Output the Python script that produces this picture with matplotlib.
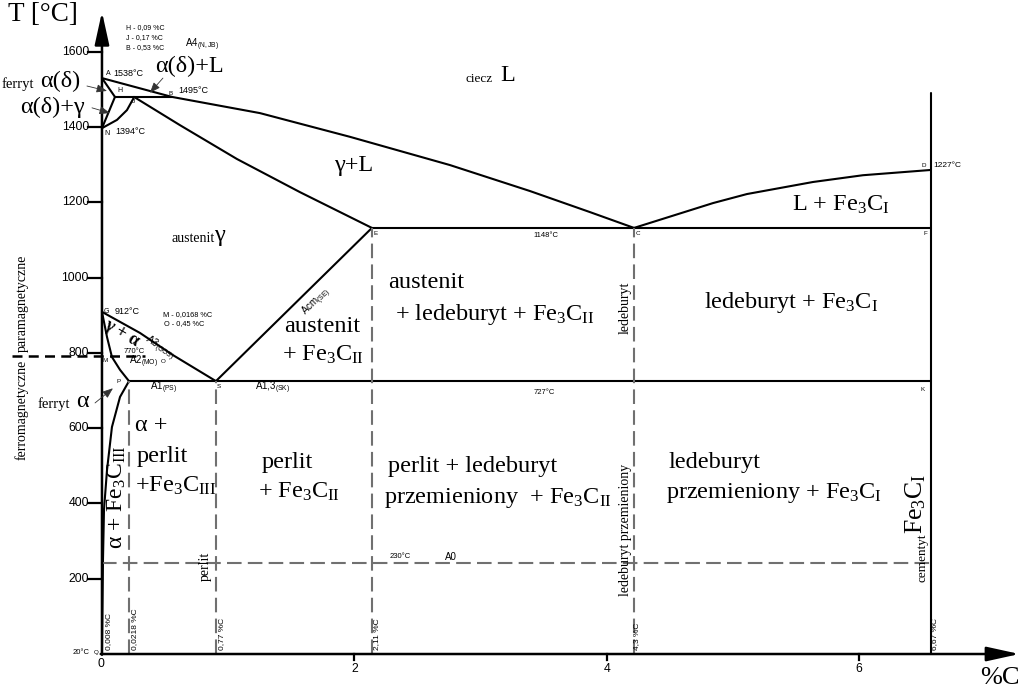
import matplotlib
matplotlib.use('Agg')
import matplotlib.pyplot as plt

# fonts: serif labels like the original (Times-like), sans for small notes
plt.rcParams['font.family'] = ['Liberation Serif', 'DejaVu Serif']
plt.rcParams['mathtext.fontset'] = 'custom'
plt.rcParams['mathtext.rm'] = 'Liberation Serif'
plt.rcParams['mathtext.it'] = 'Liberation Serif:italic'
plt.rcParams['mathtext.sf'] = 'Liberation Sans'
SANS = 'Liberation Sans'

# ---- phase boundaries (x = %C on the drawn scale, T = °C) ----
liq_x = [0.0, 0.555, 1.252, 1.965, 2.757, 3.391, 3.867, 4.216]      # A-B-C
liq_t = [1530, 1480, 1437, 1374, 1299, 1230, 1174, 1132]
cd_x = [4.216, 4.842, 5.111, 5.634, 6.030, 6.569]                     # C-D
cd_t = [1132, 1198, 1222, 1254, 1272, 1286]
je_x = [0.254, 0.618, 1.070, 1.569, 2.139]                            # J-E
je_t = [1480, 1405, 1315, 1227, 1132]
ah_x = [0.0, 0.103]
ah_t = [1530, 1480]
hn_x = [0.103, 0.0]
hn_t = [1480, 1397]
hb_x = [0.103, 0.555]
hb_t = [1480, 1480]
nj_x = [0.0, 0.119, 0.198, 0.246, 0.254]                              # N-J
nj_t = [1397, 1419, 1445, 1474, 1480]
gs_x = [0.0, 0.301, 0.563, 0.903]                                     # G-S (A3)
gs_t = [909, 853, 794, 725]
gp_x = [0.0, 0.040, 0.079, 0.143, 0.214]                              # G-P
gp_t = [909, 842, 789, 755, 725]
pq_x = [0.214, 0.143, 0.079, 0.040, 0.016, 0.008, 0.0]               # P-Q
pq_t = [725, 683, 603, 489, 383, 250, 0]
se_x = [0.903, 2.139]                                                 # S-E (Acm)
se_t = [725, 1132]
ecf_x = [2.139, 6.569]
ecf_t = [1132, 1132]
psk_x = [0.214, 6.569]
psk_t = [725, 725]
cem_x = [6.569, 6.569]
cem_t = [0, 1490]

# dashed guide lines
guide_x = [0.214, 0.903, 2.139, 4.216]     # P, S, E, C
guide_top = [725, 725, 1132, 1132]
a0_t = 242
a0_x = [0.0, 6.569]
curie_t = 792
curie_x = [-0.713, 0.341]

yticks = [200, 400, 600, 800, 1000, 1200, 1400, 1600]
xticks = [2, 4, 6]

fig = plt.figure(figsize=(10.24, 6.88), dpi=100)
ax = fig.add_axes([0, 0, 1, 1])
ax.set_xlim(-0.808, 7.306)
ax.set_ylim(-90.3, 1737.5)
ax.axis('off')

LW = 1.5
for xs, ts in [(liq_x, liq_t), (cd_x, cd_t), (je_x, je_t), (ah_x, ah_t),
               (hn_x, hn_t), (hb_x, hb_t), (nj_x, nj_t), (gs_x, gs_t),
               (gp_x, gp_t), (pq_x, pq_t), (se_x, se_t), (ecf_x, ecf_t),
               (psk_x, psk_t), (cem_x, cem_t)]:
    ax.plot(xs, ts, color='black', lw=LW, solid_capstyle='round', solid_joinstyle='round')

GRAY = '#707070'
for gx, gt in zip(guide_x, guide_top):
    ax.plot([gx, gx], [0, gt], color=GRAY, lw=1.5, dashes=(7, 3))
ax.plot(a0_x, [a0_t, a0_t], color=GRAY, lw=1.5, dashes=(7, 3))
ax.plot(curie_x, [curie_t, curie_t], color='black', lw=1.8, dashes=(4, 2.5))

# axes with arrows
arrow = dict(arrowstyle='-|>,head_length=1.0,head_width=0.22', lw=1.8,
             color='black', mutation_scale=20, shrinkA=0, shrinkB=0)
ax.annotate('', xy=(0, 1706), xytext=(0, -2), arrowprops=arrow)
ax.annotate('', xy=(7.27, 0), xytext=(-0.01, 0), arrowprops=arrow)

for t in yticks:
    ax.plot([-0.111, 0], [t, t], color='black', lw=1.6)
    ax.text(-0.103, t, str(t), family=SANS, fontsize=8.8, ha='right', va='center')
for xt in xticks:
    ax.plot([xt, xt], [0, -16], color='black', lw=1.6)
    ax.text(xt, -24, str(xt), family=SANS, fontsize=8.8, ha='center', va='top')
ax.text(-0.01, -10, '0', family=SANS, fontsize=8.8, ha='center', va='top')

ax.text(-0.745, 1700, 'T [°C]', fontsize=19.5, ha='left', va='center')
ax.text(6.957, -64, '%C', fontsize=19, ha='left', va='center')

FE3C_I = r'Fe$_\mathrm{3}$C$_\mathrm{I}$'
FE3C_II = r'Fe$_\mathrm{3}$C$_\mathrm{II}$'
FE3C_III = r'Fe$_\mathrm{3}$C$_\mathrm{III}$'


def big(x, t, s, size=17.5, **kw):
    ax.text(x, t, s, fontsize=size, ha=kw.pop('ha', 'left'), va=kw.pop('va', 'center'), **kw)


def note(x, t, s, size=6.5, **kw):
    ax.text(x, t, s, family=SANS, fontsize=size, ha=kw.pop('ha', 'left'),
            va=kw.pop('va', 'center'), **kw)


# phase names
big(0.420, 1562, 'α(δ)+L')
big(-0.792, 1514, 'ferryt', size=10.5)
big(-0.491, 1520, 'α(δ)')
big(-0.650, 1451, 'α(δ)+γ')
big(2.884, 1528, 'ciecz', size=9.5)
big(3.154, 1536, 'L')
big(1.838, 1299, 'γ+L')
big(0.547, 1105, 'austenit', size=10)
big(0.887, 1113, 'γ')
big(1.442, 871, 'austenit')
big(1.426, 794, '+ ' + FE3C_II)
big(2.266, 986, 'austenit')
big(2.322, 901, '+ ledeburyt + ' + FE3C_II)
big(4.770, 933, 'ledeburyt + ' + FE3C_I)
big(5.467, 1193, 'L + ' + FE3C_I)
big(0.261, 608, 'α +')
big(0.277, 526, 'perlit')
big(0.261, 446, '+' + FE3C_III)
big(0.119, 417, 'α + ' + FE3C_III, size=17, rotation=90, ha='center')
big(1.268, 510, 'perlit')
big(1.236, 430, '+ ' + FE3C_II)
big(2.266, 497, 'perlit + ledeburyt')
big(2.234, 414, 'przemieniony  + ' + FE3C_II)
big(4.493, 510, 'ledeburyt')
big(4.469, 428, 'przemieniony + ' + FE3C_I)
big(6.450, 400, FE3C_I, size=18.5, rotation=90, ha='center')
big(6.498, 255, 'cementyt', size=9.5, rotation=90, ha='center')
big(4.152, 329, 'ledeburyt przemieniony', size=10, rotation=90, ha='center')
big(4.144, 919, 'ledeburyt', size=10, rotation=90, ha='center')
big(0.816, 234, 'perlit', size=10, rotation=90, ha='center')
big(-0.634, 933, 'paramagnetyczne', size=10, rotation=90, ha='center')
big(-0.634, 648, 'ferromagnetyczne', size=10, rotation=90, ha='center')
big(-0.507, 664, 'ferryt', size=10.5)
big(-0.206, 672, 'α')
big(0.160, 852, 'γ + α', size=13, rotation=-30, ha='center', fontweight='bold')

# pointer arrows
parrow = dict(arrowstyle='-|>,head_length=0.9,head_width=0.35', lw=0.6,
              color='#333333', mutation_scale=7, shrinkA=0, shrinkB=0)
ax.annotate('', xy=(0.040, 1496), xytext=(-0.119, 1509), arrowprops=parrow)
ax.annotate('', xy=(0.063, 1437), xytext=(-0.079, 1451), arrowprops=parrow)
ax.annotate('', xy=(0.380, 1491), xytext=(0.483, 1530), arrowprops=parrow)
ax.annotate('', xy=(0.087, 706), xytext=(-0.055, 667), arrowprops=parrow)

# small sans notes
note(0.190, 1663, 'H - 0,09 %C', size=5)
note(0.190, 1637, 'J - 0,17 %C', size=5)
note(0.190, 1610, 'B - 0,53 %C', size=5)
note(0.658, 1618, r'A4$_\mathsf{(N,JB)}$', size=7)
note(0.032, 1541, 'A', size=5)
note(0.087, 1541, '1538°C')
note(0.119, 1496, 'H', size=5)
note(0.238, 1467, 'J', size=4.5)
note(0.531, 1490, 'B', size=4.5)
note(0.602, 1496, '1495°C')
note(0.016, 1384, 'N', size=5)
note(0.103, 1387, '1394°C')
note(6.490, 1299, 'D', size=4.5)
note(6.585, 1299, '1227°C', size=6)
note(2.155, 1116, 'E', size=4.5)
note(3.518, 1113, '1148°C', size=5.5, ha='center')
note(4.231, 1116, 'C', size=4.5)
note(6.513, 1118, 'F', size=4.5)
note(0.016, 911, 'G', size=5)
note(0.103, 911, '912°C')
note(0.483, 901, 'M - 0,0168 %C', size=5.3)
note(0.491, 877, 'O - 0,45 %C', size=5.3)
note(0.455, 812, r'A3$_\mathsf{(GOS)}$', size=7, rotation=-33, ha='center')
note(0.174, 805, '770°C', size=5.5)
note(0.008, 781, 'M', size=4.5)
note(0.214, 776, r'A2$_\mathsf{(MO)}$', size=7)
note(0.468, 776, 'O', size=4.5)
note(0.119, 725, 'P', size=4.5)
note(0.380, 707, r'A1$_\mathsf{(PS)}$', size=7)
note(0.911, 712, 'S', size=4.5)
note(1.212, 707, r'A1,3$_\mathsf{(SK)}$', size=7)
note(3.502, 696, '727°C', size=5.5, ha='center')
note(6.482, 704, 'K', size=4.5)
note(1.705, 935, r'Acm$_\mathsf{(SE)}$', size=7, rotation=44.5, ha='center')
note(2.282, 258, '230°C', size=5.5)
note(2.718, 258, 'A0', size=7)
note(-0.095, 5, '20°C', size=5.5, ha='right')
note(-0.063, 3, 'Q', size=4.5)

pct_x = [0.055, 0.261, 0.951, 2.179, 4.239, 6.601]
pct_lab = ['0,008 %C', '0,0218 %C', '0,77 %C', '2,11 %C', '4,3 %C', '6,67 %C']
for px_, lab in zip(pct_x, pct_lab):
    note(px_, 10, lab, size=6, rotation=90, ha='center', va='bottom')

fig.savefig('out.png', dpi=100)
